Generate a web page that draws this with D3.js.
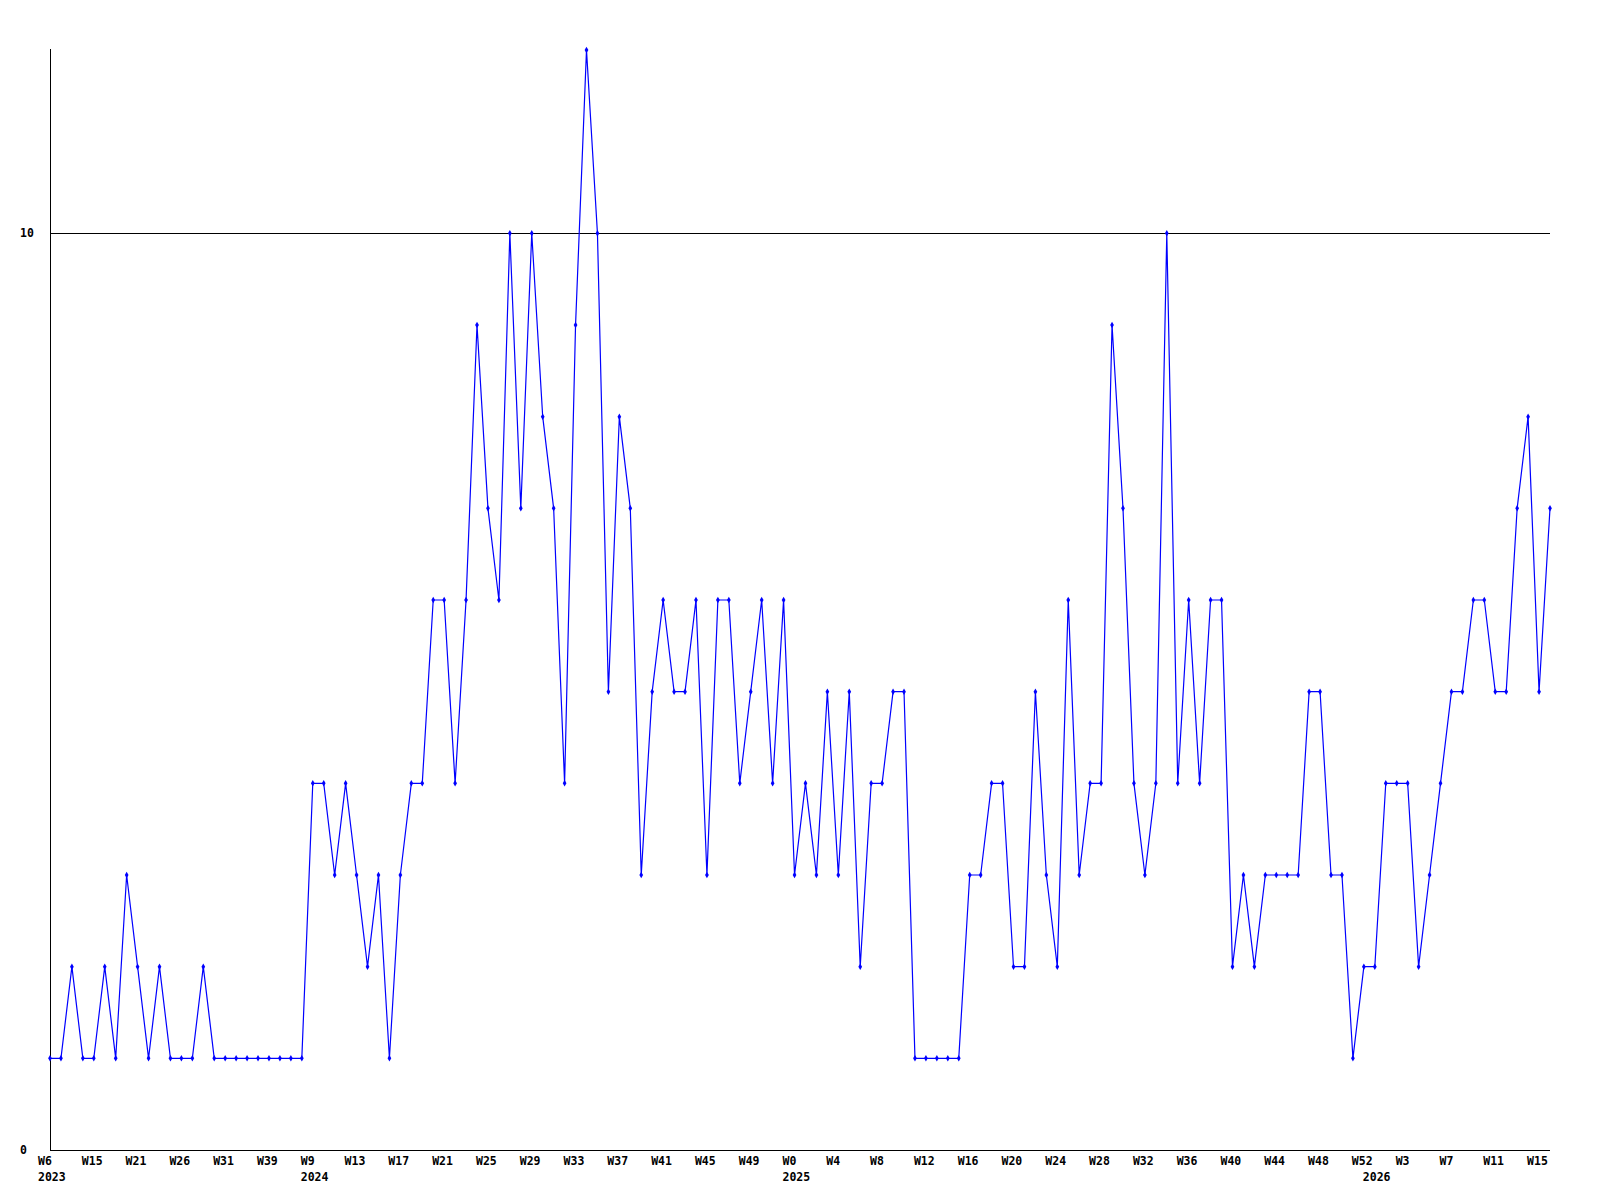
<!DOCTYPE html>
<html>
<head>
<meta charset="utf-8">
<script src="https://cdn.jsdelivr.net/npm/d3@7"></script>
<style>
  html, body { margin: 0; padding: 0; background: #fff; }
  svg { display: block; }
  text { font-family: "DejaVu Sans Mono", monospace; font-weight: bold; font-size: 11.5px; fill: #000; }
</style>
</head>
<body>
<script>
// ---- data ----
const values = [
  1,1,2,1,1,2,1,3,2,1,2,1,1,1,2,1,1,1,1,1,1,1,1,1,
  4,4,3,4,3,2,3,1,3,4,4,6,6,4,6,9,7,6,10,7,10,8,7,4,9,12,10,5,8,7,3,5,6,5,5,6,3,6,6,4,5,6,4,6,
  3,4,3,5,3,5,2,4,4,5,5,1,1,1,1,1,3,3,4,4,2,2,5,3,2,6,3,4,4,9,7,4,3,4,10,4,6,4,6,6,2,3,2,3,3,3,3,5,5,3,3,1,2,
  2,4,4,4,2,3,4,5,5,6,6,5,5,7,8,5,7
];
const tickLabels = ["W6","W15","W21","W26","W31","W39","W9","W13","W17","W21","W25","W29",
  "W33","W37","W41","W45","W49","W0","W4","W8","W12","W16","W20","W24","W28","W32",
  "W36","W40","W44","W48","W52","W3","W7","W11","W15"];
const tickEvery = 4;
const yearLabels = ["2023","2024","2025","2026"];
const yearStarts = [0, 24, 68, 121];
const yTicks = [0, 10];

(function () {
  // ---- layout ----
  const W = 1600, H = 1200;
  const mLeft = 50, mRight = 1550, mTop = 50, mBottom = 1150;

  const svg = d3.select("body").append("svg").attr("width", W).attr("height", H);

  const idx = d3.range(values.length);
  const x = d3.scalePoint().domain(idx).range([mLeft, mRight]);
  const y = d3.scaleLinear().domain([0, 12]).range([mBottom, mTop]);

  // gridline at 10
  svg.append("g").selectAll("line").data(yTicks.filter(d => d > 0)).join("line")
    .attr("x1", mLeft).attr("x2", mRight)
    .attr("y1", d => Math.round(y(d)) + 0.5).attr("y2", d => Math.round(y(d)) + 0.5)
    .attr("stroke", "#000").attr("stroke-width", 1).attr("shape-rendering", "crispEdges");

  // y labels
  svg.append("g").selectAll("text").data(yTicks).join("text")
    .attr("x", 20).attr("y", d => y(d)).attr("dy", "0.35em")
    .text(d => d);

  // axes lines
  svg.append("line").attr("x1", mLeft + 0.5).attr("x2", mLeft + 0.5).attr("y1", mTop - 1).attr("y2", mBottom)
    .attr("stroke", "#000").attr("shape-rendering", "crispEdges");
  svg.append("line").attr("x1", mLeft).attr("x2", mRight).attr("y1", mBottom + 0.5).attr("y2", mBottom + 0.5)
    .attr("stroke", "#000").attr("shape-rendering", "crispEdges");

  // x tick labels
  const tickIdx = tickLabels.map((_, i) => i * tickEvery);
  svg.append("g").selectAll("text").data(tickIdx).join("text")
    .attr("x", d => x(d) - 12).attr("y", 1161).attr("dy", "0.35em")
    .text((d, i) => tickLabels[i]);

  // year labels
  svg.append("g").selectAll("text").data(yearStarts).join("text")
    .attr("x", d => x(d) - 12).attr("y", 1177).attr("dy", "0.35em")
    .text((d, i) => yearLabels[i]);

  // line
  const line = d3.line().x((d, i) => x(i)).y(d => y(d));
  svg.append("path").datum(values)
    .attr("d", line).attr("fill", "none").attr("stroke", "#0000ff").attr("stroke-width", 1.2);

  // markers
  svg.append("g").selectAll("path").data(values).join("path")
    .attr("transform", (d, i) => `translate(${x(i)},${y(d)})`)
    .attr("d", d3.symbol(d3.symbolDiamond, 12))
    .attr("fill", "#0000ff");
})();
</script>
</body>
</html>
